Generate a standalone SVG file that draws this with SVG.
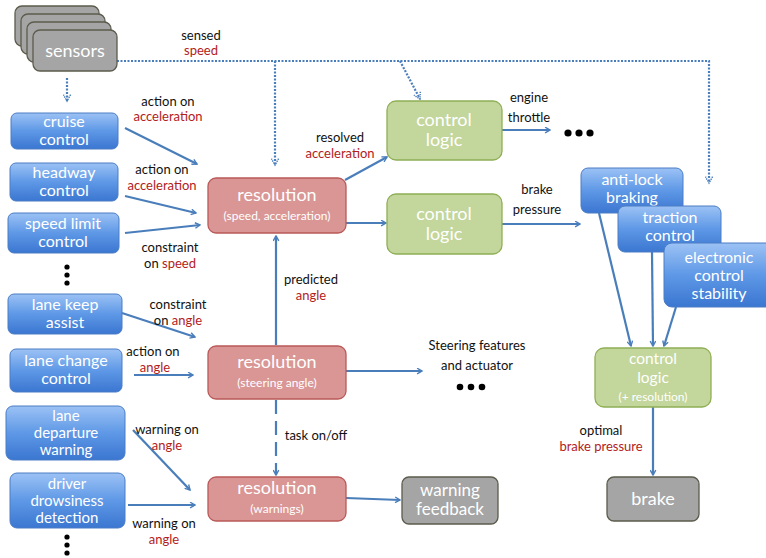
<svg xmlns="http://www.w3.org/2000/svg" width="766" height="558" viewBox="0 0 766 558">
<defs>
<linearGradient id="blue" x1="0" y1="0" x2="0" y2="1">
<stop offset="0" stop-color="#9cc2f5"/>
<stop offset="0.5" stop-color="#5e98e6"/>
<stop offset="1" stop-color="#3b76d1"/>
</linearGradient>
<marker id="ah" viewBox="0 0 10 10" refX="8" refY="5" markerWidth="7" markerHeight="7" markerUnits="userSpaceOnUse" orient="auto">
<path d="M1,1 L8,5 L1,9" fill="none" stroke="#4a7ebb" stroke-width="2"/>
</marker>
<marker id="ahd" viewBox="0 0 10 10" refX="8" refY="5" markerWidth="9" markerHeight="9" markerUnits="userSpaceOnUse" orient="auto">
<path d="M1,1 L8,5 L1,9" fill="none" stroke="#4a7ebb" stroke-width="1.6" stroke-dasharray="1.5,1"/>
</marker>
</defs>
<style>
.blue{fill:url(#blue);stroke:#4a7cc4;stroke-width:1}
.red{fill:#d99695;stroke:#b95a58;stroke-width:1.3}
.green{fill:#c3d69b;stroke:#8faf55;stroke-width:1.3}
.gray{fill:#a5a5a5;stroke:#5c5b4c;stroke-width:1.3}
.nt{font-family:Lato,"Open Sans",sans-serif;fill:#ffffff;text-anchor:middle;font-size:16px}
.t3{font-size:15px}
.big{font-size:18px}
.sub{font-size:12px}
.lb{font-family:Lato,"Open Sans",sans-serif;fill:#111111;text-anchor:middle;font-size:13px}
.rd{fill:#b3211c}
.c{fill:none;stroke:#4a7ebb;stroke-width:2.2;marker-end:url(#ah)}
.d{fill:none;stroke:#4a7ebb;stroke-width:2.2;stroke-dasharray:2,1.5}
.dash{fill:none;stroke:#4a7ebb;stroke-width:2.2;stroke-dasharray:14,7;marker-end:url(#ah)}
</style>

<g id="connectors">
<path class="d" d="M117,61 L709,61 L709,183" marker-end="url(#ahd)"/>
<path class="d" d="M275,61 L275,165" marker-end="url(#ahd)"/>
<path class="d" d="M400,61 L420,99" marker-end="url(#ahd)"/>
<path class="d" d="M67,78 L67,101" marker-end="url(#ahd)"/>
<path class="c" d="M125,128 L197,164"/>
<path class="c" d="M125,196 L196,213"/>
<path class="c" d="M125,233 L200,225"/>
<path class="c" d="M345,180 L387,157"/>
<path class="c" d="M346,223 L386,223"/>
<path class="c" d="M502,130 L550,130"/>
<path class="c" d="M502,224 L580,224"/>
<path class="c" d="M276,345 L276,236"/>
<path class="c" d="M122,313 L195,337"/>
<path class="c" d="M134,375 L193,375"/>
<path class="c" d="M346,371 L422,371"/>
<path class="dash" d="M276,400 L276,475"/>
<path class="c" d="M133,430 L190,490"/>
<path class="c" d="M128,505 L195,505"/>
<path class="c" d="M346,498 L400,500"/>
<path class="c" d="M599,213 L631,346"/>
<path class="c" d="M652,252 L653,346"/>
<path class="c" d="M676,307 L664,346"/>
<path class="c" d="M653,407 L653,475"/>
</g>

<g id="sensors">
<rect class="gray" x="15" y="6" width="84" height="40" rx="7"/>
<rect class="gray" x="21" y="14" width="84" height="40" rx="7"/>
<rect class="gray" x="27" y="22" width="84" height="40" rx="7"/>
<rect class="gray" x="33" y="30" width="84" height="41" rx="7"/>
<text class="nt" x="75" y="57" style="font-size:18px">sensors</text>
</g>

<g id="cruise-control">
<rect class="blue" x="11" y="113" width="107" height="36" rx="6"/>
<text class="nt" x="64" y="127">cruise</text>
<text class="nt" x="64" y="145">control</text>
</g>
<g id="headway-control">
<rect class="blue" x="10" y="163" width="108" height="38" rx="6"/>
<text class="nt" x="64" y="178">headway</text>
<text class="nt" x="64" y="196">control</text>
</g>
<g id="speed-limit-control">
<rect class="blue" x="8" y="213" width="111" height="40" rx="6"/>
<text class="nt" x="63" y="229">speed limit</text>
<text class="nt" x="63" y="247">control</text>
</g>
<g id="dots1">
<circle cx="67" cy="267" r="2.6" fill="#000"/>
<circle cx="67" cy="275" r="2.6" fill="#000"/>
<circle cx="67" cy="283" r="2.6" fill="#000"/>
</g>
<g id="lane-keep-assist">
<rect class="blue" x="8" y="294" width="114" height="40" rx="6"/>
<text class="nt" x="65" y="310">lane keep</text>
<text class="nt" x="65" y="328">assist</text>
</g>
<g id="lane-change-control">
<rect class="blue" x="10" y="349" width="112" height="43" rx="6"/>
<text class="nt" x="66" y="366">lane change</text>
<text class="nt" x="66" y="384">control</text>
</g>
<g id="lane-departure-warning">
<rect class="blue" x="6" y="406" width="119" height="54" rx="7"/>
<text class="nt t3" x="66" y="421">lane</text>
<text class="nt t3" x="66" y="438">departure</text>
<text class="nt t3" x="66" y="455">warning</text>
</g>
<g id="driver-drowsiness-detection">
<rect class="blue" x="10" y="473" width="115" height="55" rx="7"/>
<text class="nt t3" x="67" y="489">driver</text>
<text class="nt t3" x="67" y="506">drowsiness</text>
<text class="nt t3" x="67" y="523">detection</text>
</g>
<g id="dots2">
<circle cx="67" cy="537" r="2.6" fill="#000"/>
<circle cx="67" cy="545" r="2.6" fill="#000"/>
<circle cx="67" cy="553" r="2.6" fill="#000"/>
</g>

<g id="resolution-speed">
<rect class="red" x="208" y="178" width="138" height="55" rx="8"/>
<text class="nt big" x="277" y="201">resolution</text>
<text class="nt sub" x="277" y="220">(speed, acceleration)</text>
</g>
<g id="resolution-steering">
<rect class="red" x="208" y="346" width="138" height="53" rx="8"/>
<text class="nt big" x="277" y="368">resolution</text>
<text class="nt sub" x="277" y="387">(steering angle)</text>
</g>
<g id="resolution-warnings">
<rect class="red" x="208" y="477" width="138" height="44" rx="8"/>
<text class="nt big" x="277" y="494">resolution</text>
<text class="nt sub" x="277" y="513">(warnings)</text>
</g>
<g id="warning-feedback">
<rect class="gray" x="402" y="477" width="96" height="47" rx="7"/>
<text class="nt" x="450" y="496" style="font-size:17px">warning</text>
<text class="nt" x="450" y="515" style="font-size:17px">feedback</text>
</g>

<g id="control-logic-1">
<rect class="green" x="387" y="101" width="115" height="59" rx="9"/>
<text class="nt big" x="444" y="126">control</text>
<text class="nt big" x="444" y="146">logic</text>
</g>
<g id="control-logic-2">
<rect class="green" x="387" y="194" width="115" height="60" rx="9"/>
<text class="nt big" x="444" y="220">control</text>
<text class="nt big" x="444" y="240">logic</text>
</g>

<g id="anti-lock-braking">
<rect class="blue" x="581" y="168" width="102" height="45" rx="7"/>
<text class="nt" x="632" y="185">anti-lock</text>
<text class="nt" x="632" y="203">braking</text>
</g>
<g id="traction-control">
<rect class="blue" x="618" y="206" width="103" height="46" rx="7"/>
<text class="nt" x="670" y="223">traction</text>
<text class="nt" x="670" y="241">control</text>
</g>
<g id="electronic-control-stability">
<rect class="blue" x="664" y="243" width="110" height="64" rx="8"/>
<text class="nt" x="719" y="263">electronic</text>
<text class="nt" x="719" y="281">control</text>
<text class="nt" x="719" y="299">stability</text>
</g>
<g id="control-logic-3">
<rect class="green" x="595" y="348" width="116" height="59" rx="9"/>
<text class="nt" x="653" y="364" style="font-size:15.5px">control</text>
<text class="nt" x="653" y="383" style="font-size:15.5px">logic</text>
<text class="nt sub" x="653" y="401">(+ resolution)</text>
</g>
<g id="brake">
<rect class="gray" x="607" y="477" width="92" height="44" rx="7"/>
<text class="nt" x="653" y="505" style="font-size:18px">brake</text>
</g>

<g id="ellipses">
<circle cx="568" cy="133" r="3.6" fill="#000"/>
<circle cx="579" cy="133" r="3.6" fill="#000"/>
<circle cx="590" cy="133" r="3.6" fill="#000"/>
<circle cx="460" cy="387" r="3.3" fill="#000"/>
<circle cx="471" cy="387" r="3.3" fill="#000"/>
<circle cx="482" cy="387" r="3.3" fill="#000"/>
</g>

<g id="labels">
<text class="lb" x="201" y="40">sensed</text>
<text class="lb rd" x="201" y="55">speed</text>
<text class="lb" x="168" y="106">action on</text>
<text class="lb rd" x="168" y="121">acceleration</text>
<text class="lb" x="162" y="174">action on</text>
<text class="lb rd" x="162" y="190">acceleration</text>
<text class="lb" x="170" y="252">constraint</text>
<text class="lb rd" x="170" y="268"><tspan fill="#111">on </tspan>speed</text>
<text class="lb" x="340" y="142">resolved</text>
<text class="lb rd" x="340" y="158">acceleration</text>
<text class="lb" x="529" y="102">engine</text>
<text class="lb" x="529" y="122">throttle</text>
<text class="lb" x="537" y="194">brake</text>
<text class="lb" x="537" y="214">pressure</text>
<text class="lb" x="311" y="284">predicted</text>
<text class="lb rd" x="311" y="300">angle</text>
<text class="lb" x="178" y="309">constraint</text>
<text class="lb rd" x="178" y="325"><tspan fill="#111">on </tspan>angle</text>
<text class="lb" x="153" y="356">action on</text>
<text class="lb rd" x="155" y="372">angle</text>
<text class="lb" x="477" y="350">Steering features</text>
<text class="lb" x="477" y="370">and actuator</text>
<text class="lb" x="316" y="440">task on/off</text>
<text class="lb" x="167" y="434">warning on</text>
<text class="lb rd" x="167" y="450">angle</text>
<text class="lb" x="164" y="528">warning on</text>
<text class="lb rd" x="164" y="544">angle</text>
<text class="lb" x="601" y="435">optimal</text>
<text class="lb rd" x="601" y="451">brake pressure</text>
</g>
</svg>
